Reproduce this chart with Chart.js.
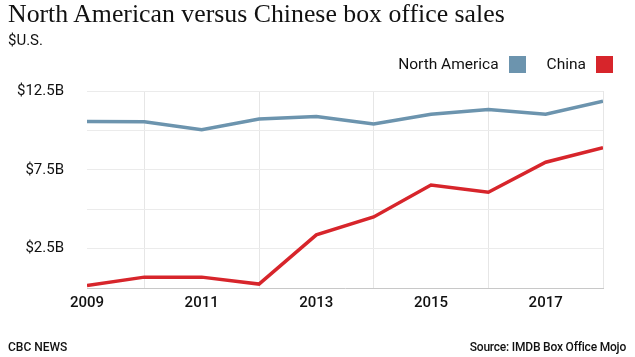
<!DOCTYPE html>
<html>
<head>
<meta charset="utf-8">
<script src="https://cdn.jsdelivr.net/npm/chart.js@4/dist/chart.umd.min.js"></script>
<style>
  html, body { margin: 0; padding: 0; background: #fff; }
  #wrap { position: relative; width: 635px; height: 357px; overflow: hidden; font-family: Roboto, "DejaVu Sans", sans-serif; color: #111; }
  #c { position: absolute; left: 0; top: 0; }
  .abs { position: absolute; white-space: nowrap; }
  #title { left: 8px; top: -1px; font-family: "Liberation Serif", "DejaVu Serif", serif; font-size: 25.8px; color: #111; }
  #sub { left: 8px; top: 31px; font-size: 15px; }
  #legend { right: 22px; top: 55px; font-size: 15.5px; display: flex; align-items: center; }
  #legend .sw { display: inline-block; width: 17px; height: 17px; margin-left: 10px; }
  #legend .item { display: flex; align-items: center; }
  #legend .item + .item { margin-left: 21px; }
  #footL { left: 8px; top: 340px; font-size: 12px; font-weight: 500; }
  #footR { right: 9px; top: 340px; font-size: 12px; font-weight: 500; letter-spacing: -0.2px; }
</style>
</head>
<body>
<div id="wrap">
  <canvas id="c" width="635" height="357"></canvas>
  <div class="abs" id="title">North American versus Chinese box office sales</div>
  <div class="abs" id="sub">$U.S.</div>
  <div class="abs" id="legend"></div>
  <div class="abs" id="footL">CBC NEWS</div>
  <div class="abs" id="footR">Source: IMDB Box Office Mojo</div>
</div>
<script>
// Data (billions of US dollars)
const years = [2009, 2010, 2011, 2012, 2013, 2014, 2015, 2016, 2017, 2018];
const northAmerica = [10.57, 10.55, 10.05, 10.72, 10.88, 10.40, 11.03, 11.33, 11.03, 11.85];
const china = [0.16, 0.69, 0.69, 0.25, 3.37, 4.51, 6.53, 6.08, 7.98, 8.90];
const seriesNames = ['North America', 'China'];
const seriesColors = ['#6c94ae', '#d7252b'];
const yTickLabelValues = [2.5, 7.5, 12.5];
const xTickLabelYears = [2009, 2011, 2013, 2015, 2017];

// HTML legend (text then swatch)
const legendEl = document.getElementById('legend');
seriesNames.forEach((n, i) => {
  const it = document.createElement('span');
  it.className = 'item';
  const t = document.createElement('span');
  t.textContent = n;
  const sw = document.createElement('span');
  sw.className = 'sw';
  sw.style.background = seriesColors[i];
  it.appendChild(t); it.appendChild(sw);
  legendEl.appendChild(it);
});

const toPoints = arr => arr.map((v, i) => ({ x: years[i], y: v }));

new Chart(document.getElementById('c'), {
  type: 'line',
  data: {
    datasets: [
      { label: seriesNames[0], data: toPoints(northAmerica), borderColor: seriesColors[0], borderWidth: 3.5, pointRadius: 0, tension: 0, fill: false },
      { label: seriesNames[1], data: toPoints(china), borderColor: seriesColors[1], borderWidth: 3.5, pointRadius: 0, tension: 0, fill: false }
    ]
  },
  options: {
    responsive: false,
    animation: false,
    devicePixelRatio: 1,
    layout: { padding: { left: 0, right: 32, top: 91, bottom: 0 } },
    plugins: { legend: { display: false }, title: { display: false }, tooltip: { enabled: false } },
    scales: {
      x: {
        type: 'linear',
        min: 2009, max: 2018,
        afterFit: s => { s.height = 69; },
        border: { display: true, color: '#c8c8c8', width: 1 },
        grid: {
          drawTicks: false,
          color: ctx => (ctx.tick && ctx.tick.value % 2 === 0) ? '#e6e6e6' : 'rgba(0,0,0,0)',
          lineWidth: 1
        },
        ticks: {
          stepSize: 1,
          autoSkip: false,
          maxRotation: 0,
          padding: 6,
          color: '#111',
          font: { family: 'Roboto', size: 15, weight: '500' },
          callback: v => xTickLabelYears.includes(v) ? String(v) : ''
        }
      },
      y: {
        min: 0, max: 12.5,
        afterFit: s => { s.width = 87; },
        border: { display: false },
        grid: {
          drawTicks: false,
          color: ctx => (ctx.tick && ctx.tick.value === 0) ? 'rgba(0,0,0,0)' : '#ebebeb',
          lineWidth: 1
        },
        ticks: {
          stepSize: 2.5,
          padding: 23,
          color: '#111',
          font: { family: 'Roboto', size: 15 },
          callback: v => yTickLabelValues.includes(v) ? '$' + v + 'B' : ''
        }
      }
    }
  }
});
</script>
</body>
</html>
